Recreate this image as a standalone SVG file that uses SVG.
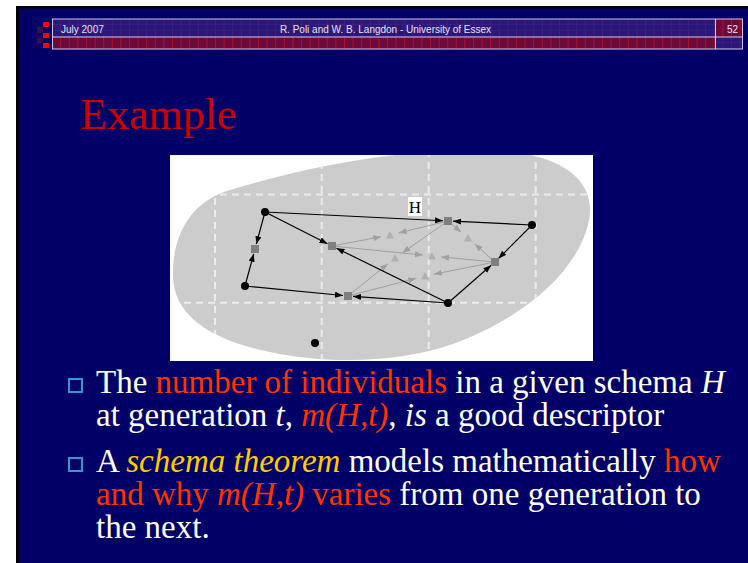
<svg xmlns="http://www.w3.org/2000/svg" width="748" height="563" viewBox="0 0 748 563">
<defs>
<style>
.hdr{font-family:"Liberation Sans",Arial,sans-serif;font-size:10px;fill:#e8e4f4}
.body{font-family:"Liberation Serif","Times New Roman",serif;font-size:33px;fill:#ffffff}
.red{fill:#ff3300}
.yel{fill:#ffcc00}
.it{font-style:italic}
.edge{stroke:#000;stroke-width:1.2;fill:none;marker-end:url(#ab)}
.gedge{stroke:#a0a0a0;stroke-width:1;fill:none;marker-end:url(#ag)}
.node{fill:#000}
.sq{fill:#7f7f7f}
.tri{fill:#b0b0b0}
.grid{stroke:#ececec;stroke-width:2;stroke-dasharray:7 5;fill:none}
.bullet{fill:none;stroke:#3399cc;stroke-width:2}
</style>
<marker id="ab" markerWidth="9" markerHeight="7" refX="8" refY="3" orient="auto" markerUnits="userSpaceOnUse"><path d="M0,0 L8,3 L0,6 z" fill="#000"/></marker>
<marker id="ag" markerWidth="9" markerHeight="7" refX="8" refY="3" orient="auto" markerUnits="userSpaceOnUse"><path d="M0,0 L8,3 L0,6 z" fill="#a0a0a0"/></marker>
<pattern id="pRed" width="8.6" height="6" patternUnits="userSpaceOnUse"><rect width="8.6" height="6" fill="#6e0a3a"/><rect x="0" width="0.9" height="6" fill="#b0102a"/></pattern>
<pattern id="pPur" width="8.6" height="6" patternUnits="userSpaceOnUse"><rect width="8.6" height="6" fill="#2c1678"/><rect x="0" width="0.8" height="6" fill="#3c2288"/><rect y="0" width="8.6" height="0.6" fill="#3c2288"/></pattern>
<clipPath id="boxClip"><rect x="170" y="155" width="423" height="206"/></clipPath>
<clipPath id="blobClip"><path d="M 173,277 C 172,230 195,200 230,190 C 290,172 380,150 480,150 C 560,150 600,180 588,225 C 575,275 520,320 450,345 C 400,362 330,365 270,352 C 210,340 174,315 173,277 Z"/></clipPath>
</defs>
<rect width="748" height="563" fill="#ffffff"/>
<rect x="16" y="6" width="732" height="557" fill="#000000"/>
<rect x="19" y="8.5" width="729" height="554.5" fill="#000066"/>
<g id="header">
<rect x="43" y="22" width="6" height="5" fill="#ff0000"/>
<rect x="43" y="33" width="6" height="5" fill="#ff0000"/>
<rect x="43" y="43" width="6" height="5" fill="#ff0000"/>
<rect x="37" y="27" width="6" height="6" fill="#3a0a4a"/>
<rect x="37" y="38" width="6" height="5" fill="#3a0a4a"/>
<rect x="52.5" y="19" width="663" height="18" fill="url(#pPur)"/>
<rect x="715.5" y="19" width="27" height="18" fill="url(#pRed)"/>
<rect x="52.5" y="37" width="663" height="12" fill="url(#pRed)"/>
<rect x="715.5" y="37" width="27" height="12" fill="url(#pPur)"/>
<rect x="52.5" y="19" width="690" height="30" fill="none" stroke="#cfc8ea" stroke-width="1"/>
<line x1="52.5" y1="37" x2="742.5" y2="37" stroke="#cfc8ea" stroke-width="1"/>
<line x1="715.5" y1="19" x2="715.5" y2="49" stroke="#cfc8ea" stroke-width="1"/>
<text class="hdr" x="61" y="33">July 2007</text>
<text class="hdr" x="385.5" y="33" text-anchor="middle">R. Poli and W. B. Langdon - University of Essex</text>
<text class="hdr" x="738" y="33" text-anchor="end">52</text>
</g>
<text x="80" y="129" font-family="'Liberation Serif','Times New Roman',serif" font-size="44" fill="#cc0000">Example</text>
<g id="figure">
<rect x="170" y="155" width="423" height="206" fill="#ffffff"/>
<g clip-path="url(#boxClip)">
<path d="M 173,277 C 172,230 195,200 230,190 C 290,172 380,150 480,150 C 560,150 600,180 588,225 C 575,275 520,320 450,345 C 400,362 330,365 270,352 C 210,340 174,315 173,277 Z" fill="#cccccc"/>
<g clip-path="url(#blobClip)">
<line class="grid" x1="160" y1="194.5" x2="600" y2="194.5"/>
<line class="grid" x1="160" y1="302.7" x2="600" y2="302.7"/>
<line class="grid" x1="215" y1="150" x2="215" y2="370"/>
<line class="grid" x1="321.7" y1="150" x2="321.7" y2="370"/>
<line class="grid" x1="428.7" y1="150" x2="428.7" y2="370"/>
<line class="grid" x1="535.7" y1="150" x2="535.7" y2="370"/>
</g>
</g>
<g id="label-H">
<rect x="408" y="197" width="14" height="19" fill="#ffffff"/>
<text x="415" y="213" text-anchor="middle" font-family="'Liberation Serif','Times New Roman',serif" font-size="17" fill="#000">H</text>
</g>
<g id="connectors">
<line class="gedge" x1="332" y1="246" x2="381.2" y2="236.7"/>
<line class="gedge" x1="448" y1="221" x2="398.7" y2="232.9"/>
<line class="gedge" x1="448" y1="221" x2="461.1" y2="232.2"/>
<line class="gedge" x1="495" y1="262" x2="474.7" y2="244"/>
<line class="gedge" x1="332" y1="246" x2="423" y2="255.1"/>
<line class="gedge" x1="495" y1="262" x2="441" y2="256.9"/>
<line class="gedge" x1="448" y1="221" x2="402.4" y2="252.8"/>
<line class="gedge" x1="348" y1="296" x2="388" y2="263.7"/>
<line class="gedge" x1="348" y1="296" x2="416.3" y2="278.3"/>
<line class="gedge" x1="495" y1="262" x2="433.8" y2="274.2"/>
<line class="edge" x1="265" y1="212" x2="256.3" y2="244.2"/>
<line class="edge" x1="245" y1="286" x2="253.7" y2="253.8"/>
<line class="edge" x1="265" y1="212" x2="443" y2="220.75"/>
<line class="edge" x1="532" y1="225" x2="453" y2="221.2"/>
<line class="edge" x1="265" y1="212" x2="327.5" y2="243.7"/>
<line class="edge" x1="448" y1="303" x2="336.5" y2="248.2"/>
<line class="edge" x1="245" y1="286" x2="343" y2="295.5"/>
<line class="edge" x1="448" y1="303" x2="353" y2="296.4"/>
<line class="edge" x1="532" y1="225" x2="498.5" y2="258.5"/>
<line class="edge" x1="448" y1="303" x2="491.2" y2="265.3"/>
</g>
<g id="triangles">
<polygon class="tri" points="390,231 386,238.5 394,238.5"/>
<polygon class="tri" points="468,234 464,241.5 472,241.5"/>
<polygon class="tri" points="432,252 428,259.5 436,259.5"/>
<polygon class="tri" points="395,254 391,261.5 399,261.5"/>
<polygon class="tri" points="425,272 421,279.5 429,279.5"/>
</g>
<g id="n-A"><circle class="node" cx="265" cy="212" r="4"/></g>
<g id="n-B"><circle class="node" cx="532" cy="225" r="4"/></g>
<g id="n-C"><circle class="node" cx="245" cy="286" r="4"/></g>
<g id="n-D"><circle class="node" cx="448" cy="303" r="4"/></g>
<g id="n-E"><circle class="node" cx="315" cy="343" r="4"/></g>
<g id="s1"><rect class="sq" x="251" y="245" width="8" height="8"/></g>
<g id="s2"><rect class="sq" x="328" y="242" width="8" height="8"/></g>
<g id="s3"><rect class="sq" x="444" y="217" width="8" height="8"/></g>
<g id="s4"><rect class="sq" x="491" y="258" width="8" height="8"/></g>
<g id="s5"><rect class="sq" x="344" y="292" width="8" height="8"/></g>
</g>
<g id="bullets">
<rect class="bullet" x="69" y="379" width="13" height="13"/>
<rect class="bullet" x="69" y="458" width="13" height="13"/>
</g>
<g id="text">
<text class="body" x="96" y="393">The <tspan class="red">number of individuals</tspan> in a given schema <tspan class="it">H</tspan></text>
<text class="body" x="96" y="426">at generation <tspan class="it">t</tspan>, <tspan class="it red">m(H,t)</tspan>, <tspan class="it">is</tspan> a good descriptor</text>
<text class="body" x="96" y="472">A <tspan class="it yel">schema theorem</tspan> models mathematically <tspan class="red">how</tspan></text>
<text class="body" x="96" y="505"><tspan class="red">and why </tspan><tspan class="it red">m(H,t)</tspan><tspan class="red"> varies</tspan> from one generation to</text>
<text class="body" x="96" y="538">the next.</text>
</g>
</svg>
